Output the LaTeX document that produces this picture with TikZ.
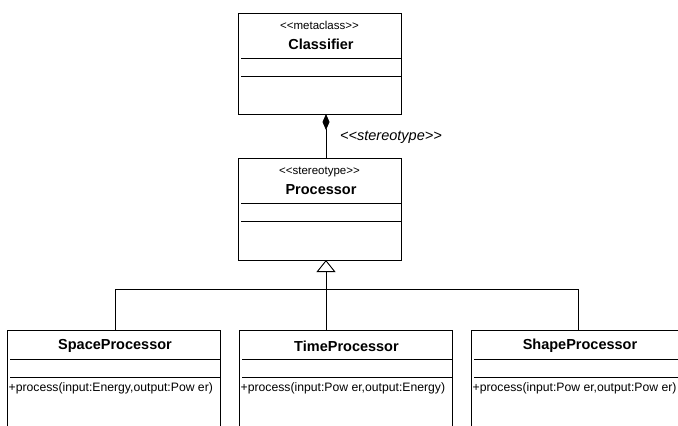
\documentclass[tikz,border=0pt]{standalone}
\usepackage{fontspec}
\setmainfont{Liberation Sans}
\usetikzlibrary{arrows.meta,calc}

\tikzset{
  umlbox/.style={draw=black, line width=0.9pt, fill=white, anchor=north west,
                 inner sep=0pt, outer sep=0pt},
  stereo/.style={font=\fontsize{11.5}{12}\selectfont, inner sep=0pt},
  cname/.style={font=\fontsize{14.5}{16}\selectfont\bfseries, inner sep=0pt},
  oper/.style={font=\fontsize{12.2}{14}\selectfont, inner sep=0pt, anchor=west},
  conn/.style={line width=0.9pt, draw=black},
  composition/.style={conn, {Diamond[length=16pt,width=7pt,fill=black]}-},
  generalization/.style={conn, -{Triangle[open,length=12pt,width=19pt,fill=white]}},
  compartment/.style={line width=0.9pt, draw=black}
}

\begin{document}
\begin{tikzpicture}[x=1pt, y=-1pt]
  \useasboundingbox (0,0) rectangle (678,426);
  \clip (0,0) rectangle (678,426);
  \fill[white] (0,0) rectangle (678,426);

  % class boxes
  \node[umlbox, minimum width=163pt, minimum height=101pt] (classifier) at (238,13) {};
  \node[umlbox, minimum width=163pt, minimum height=102pt] (processor) at (238,158) {};
  \node[umlbox, minimum width=213pt, minimum height=120pt] (space) at (7,330) {};
  \node[umlbox, minimum width=213pt, minimum height=120pt] (time) at (239,330) {};
  \node[umlbox, minimum width=217pt, minimum height=120pt] (shape) at (471,330) {};

  % compartment separators
  \foreach \b in {classifier, processor} {
    \draw[compartment] ($(\b.north west)+(3,45)$) -- ($(\b.north east)+(0,45)$);
    \draw[compartment] ($(\b.north west)+(3,63)$) -- ($(\b.north east)+(0,63)$);
  }
  \foreach \b in {space, time, shape} {
    \draw[compartment] ($(\b.north west)+(3,29)$) -- ($(\b.north east)+(0,29)$);
    \draw[compartment] ($(\b.north west)+(3,47)$) -- ($(\b.north east)+(0,47)$);
  }

  % class texts
  \node[stereo] (classifierst) at ($(classifier.north)+(0,12)$) {<{}<metaclass>{}>};
  \node[cname] (classifiernm) at ($(classifier.north)+(1.5,31)$) {Classifier};
  \node[stereo] (processorst) at ($(processor.north)+(0,14)$) {<{}<stereotype>{}>};
  \node[cname] (processornm) at ($(processor.north)+(1.5,32)$) {Processor};

  \node[cname] (spacenm) at ($(space.north)+(1.5,16)$) {SpaceProcessor};
  \node[cname] (timenm) at ($(time.north)+(1,16)$) {TimeProcessor};
  \node[cname] (shapenm) at ($(shape.north)+(0.5,16)$) {ShapeProcessor};

  \node[oper] (spaceop) at ($(space.north west)+(1.5,58)$) {+process(input:Energy,output:Pow er)};
  \node[oper] (timeop) at ($(time.north west)+(1.5,58)$) {+process(input:Pow er,output:Energy)};
  \node[oper] (shapeop) at ($(shape.north west)+(1.5,58)$) {+process(input:Pow er,output:Pow er)};

  % connectors
  \coordinate (trunk) at (326,0);
  \coordinate (busL) at (115,289);
  \coordinate (busM) at (326,289);
  \coordinate (busR) at (578,289);

  \draw[composition] (classifier.south -| trunk) -- (processor.north -| trunk);
  \node[font=\fontsize{14.5}{16}\selectfont\itshape, anchor=west, inner sep=0pt]
    (complabel) at (340,137) {<{}<stereotype>{}>};

  \draw[conn] (space.north -| busL) -- (busL) -- (busR) -- (shape.north -| busR);
  \draw[conn] (time.north -| busM) -- (busM);
  \draw[generalization] (busM) -- (processor.south -| busM);
\end{tikzpicture}
\end{document}
